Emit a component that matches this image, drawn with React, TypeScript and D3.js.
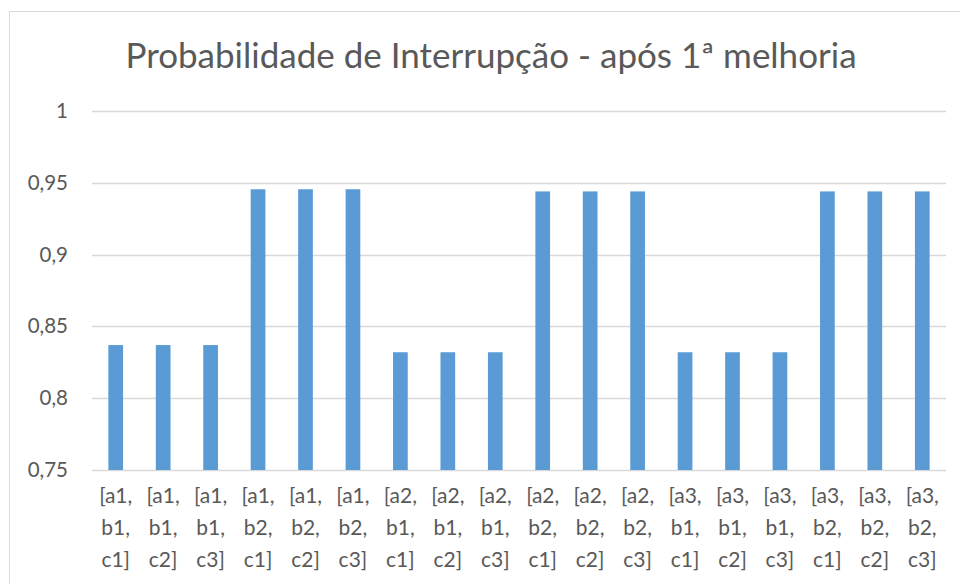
import React from "react";
import * as d3 from "d3";

const categories: string[][] = [
  ["[a1,", "b1,", "c1]"], ["[a1,", "b1,", "c2]"], ["[a1,", "b1,", "c3]"],
  ["[a1,", "b2,", "c1]"], ["[a1,", "b2,", "c2]"], ["[a1,", "b2,", "c3]"],
  ["[a2,", "b1,", "c1]"], ["[a2,", "b1,", "c2]"], ["[a2,", "b1,", "c3]"],
  ["[a2,", "b2,", "c1]"], ["[a2,", "b2,", "c2]"], ["[a2,", "b2,", "c3]"],
  ["[a3,", "b1,", "c1]"], ["[a3,", "b1,", "c2]"], ["[a3,", "b1,", "c3]"],
  ["[a3,", "b2,", "c1]"], ["[a3,", "b2,", "c2]"], ["[a3,", "b2,", "c3]"],
];
const values: number[] = [
  0.837, 0.837, 0.837, 0.9455, 0.9455, 0.9455,
  0.832, 0.832, 0.832, 0.944, 0.944, 0.944,
  0.832, 0.832, 0.832, 0.944, 0.944, 0.944,
];
const yTicks: number[] = [0.75, 0.8, 0.85, 0.9, 0.95, 1];
const title = "Probabilidade de Interrupção - após 1ª melhoria";

const W = 960, H = 584;
const left = 92, right = 946, top = 111, bottom = 470;
const FONT = "Lato, 'Open Sans', sans-serif";
const TEXT = "#595959";

export default function App() {
  const ids = categories.map((_, i) => String(i));
  const x = d3.scaleBand<string>().domain(ids).range([left, right]).paddingInner(0.69).paddingOuter(0.345);
  const y = d3.scaleLinear().domain([0.75, 1]).range([bottom, top]);
  const fmt = (v: number) => d3.format("~g")(+v.toFixed(2)).replace(".", ",");
  return (
    <svg width={W} height={H} style={{ position: "absolute", left: 0, top: 0, background: "#fff" }}>
      <rect x={9.5} y={11.5} width={1100} height={1000} fill="#fff" stroke="#D9D9D9" strokeWidth={1} />
      <text x={491} y={68} textAnchor="middle" fontFamily={FONT} fontSize={35} fill={TEXT}>{title}</text>
      {yTicks.map((t) => (
        <g key={t}>
          <line x1={left} x2={right} y1={Math.round(y(t)) + 0.5} y2={Math.round(y(t)) + 0.5} stroke="#D9D9D9" strokeWidth={1.3} />
          <text x={68} y={y(t) + 7} textAnchor="end" fontFamily={FONT} fontSize={20.5} fill={TEXT}>{fmt(t)}</text>
        </g>
      ))}
      {values.map((v, i) => (
        <rect key={i} x={x(String(i))} y={y(v)} width={x.bandwidth()} height={bottom - y(v)} fill="#5B9BD5" />
      ))}
      {categories.map((lines, i) => (
        <text key={i} textAnchor="middle" fontFamily={FONT} fontSize={21} fill={TEXT}>
          {lines.map((l, j) => (
            <tspan key={j} x={(x(String(i)) as number) + x.bandwidth() / 2} y={503 + j * 32}>{l}</tspan>
          ))}
        </text>
      ))}
    </svg>
  );
}
